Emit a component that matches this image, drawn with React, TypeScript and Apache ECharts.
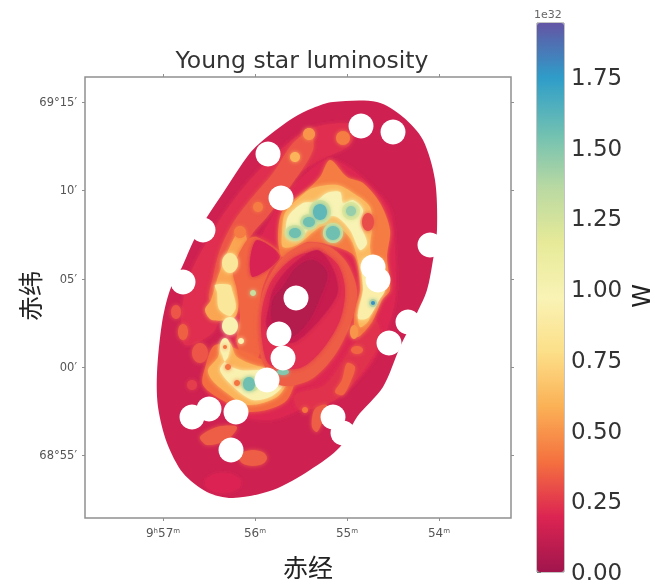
import React, { useEffect, useRef } from "react";
import * as echarts from "echarts";

const spectral = ["#a0154c","#dc2452","#f4703f","#fbb055","#fcdf88","#f9f3b5","#e6ea98","#b9d9a2","#6fc0b2","#2f9dc9","#6355a5"];
const xTickValues = [163, 255, 347, 439];
const xTickLabels = ["9{s|h}57{s|m}", "56{s|m}", "55{s|m}", "54{s|m}"];
const yTickValues = [102, 190, 279, 367, 455];
const yTickLabels = ["69°15′", "10′", "05′", "00′", "68°55′"];
const barTicks = [0, 0.25, 0.5, 0.75, 1, 1.25, 1.5, 1.75];

// Regions of the luminosity map, in image pixels: [value, points]; painted in order.
type Poly = [number, number[][]];
const disc: Poly = [0.15, [[333,102],[377,102],[403,117],[423,140],[435,180],[437,230],[433,260],[427,290],[417,313],[400,347],[383,387],[357,417],[340,447],[310,470],[273,490],[233,498],[207,492],[183,473],[167,443],[158,407],[157,373],[162,323],[170,290],[182,267],[193,242],[207,217],[223,193],[250,153],[267,137],[293,118],[313,108]]];
const outerArmRed: Poly = [0.22, [[355,125],[312,128],[280,150],[250,180],[225,212],[205,245],[190,275],[182,310],[185,345],[215,330],[222,290],[240,250],[262,215],[290,180],[320,160],[350,145]]];
const centralDisc: Poly = [0.2, [[325,160],[290,190],[262,235],[235,290],[225,340],[205,385],[225,410],[270,420],[310,405],[345,390],[370,365],[385,335],[395,300],[395,250],[390,210],[370,185],[345,165]]];
const outerArmOrange: Poly = [0.32, [[310,132],[293,143],[273,173],[250,200],[233,223],[220,250],[213,277],[210,300],[240,300],[237,267],[250,237],[267,217],[290,187],[313,150]]];
const leftArmLight: Poly = [0.55, [[240,230],[227,253],[217,280],[211,300],[205,310],[212,320],[235,317],[239,297],[239,270],[247,240]]];
const leftArmPale: Poly = [0.85, [[215,285],[230,285],[232,290],[236,307],[230,316],[219,309],[217,292]]];
const middleBand: Poly = [0.36, [[257,237],[282,255],[270,270],[262,290],[260,310],[265,333],[260,353],[250,370],[237,343],[240,317],[237,290],[233,270],[247,240]]];
const redPatch: Poly = [0.18, [[257,240],[280,257],[253,277],[250,260]]];
const lowerOrange: Poly = [0.38, [[215,345],[205,368],[203,385],[222,400],[250,412],[285,402],[297,375],[298,360],[265,360],[240,350]]];
const lowerLight: Poly = [0.6, [[222,342],[218,357],[208,370],[212,380],[227,393],[247,405],[277,397],[290,377],[293,365],[263,367],[237,357],[230,343]]];
const lowerPale: Poly = [0.95, [[222,347],[225,362],[240,370],[257,370],[290,367],[282,387],[270,397],[253,400],[237,390],[220,370],[228,357],[228,347]]];
const lowerGreen: Poly = [1.2, [[240,380],[257,377],[257,390],[245,390]]];
const mainOrange: Poly = [0.42, [[330,160],[347,177],[363,183],[380,203],[390,230],[387,257],[390,290],[382,300],[372,322],[357,337],[354,313],[360,290],[355,257],[337,247],[307,242],[283,257],[278,237],[283,210],[307,190],[320,177]]];
const mainLight: Poly = [0.62, [[285,213],[300,197],[313,188],[337,185],[353,193],[370,207],[372,227],[370,247],[375,290],[369,320],[360,327],[358,310],[363,290],[357,257],[350,238],[335,225],[320,227],[297,245],[283,247],[282,233]]];
const mainPale: Poly = [0.98, [[288,217],[303,203],[315,202],[327,193],[340,192],[343,203],[353,200],[363,210],[360,223],[367,243],[360,250],[350,230],[337,217],[327,217],[310,228],[297,240],[287,237]]];
const rightPale: Poly = [0.92, [[363,260],[382,260],[385,290],[380,299],[368,318],[358,318],[363,290]]];
const rightArmLow: Poly = [0.36, [[347,363],[355,367],[350,383],[343,395],[335,392],[342,380]]];
const lowerRightRed: Poly = [0.23, [[295,395],[325,385],[350,350],[375,320],[380,340],[360,375],[335,400],[300,410]]];
const bottomArm: Poly = [0.34, [[317,407],[327,405],[323,420],[317,432],[312,427],[313,413]]];
const lowerLeftPatch: Poly = [0.34, [[200,437],[217,427],[237,427],[227,440],[207,445]]];
const ringA: Poly = [0.34, [[283,257],[307,243],[330,247],[347,263],[357,290],[352,320],[335,355],[310,380],[280,385],[262,360],[258,320],[265,285]]];
const ringB: Poly = [0.22, [[295,257],[320,252],[338,265],[345,290],[340,320],[322,350],[300,368],[270,365],[262,340],[262,310],[272,280]]];
const ringC: Poly = [0.13, [[317,250],[332,267],[338,290],[330,307],[307,333],[290,343],[267,327],[270,303],[273,290],[290,267]]];
const ringD: Poly = [0.06, [[313,260],[327,273],[320,297],[307,323],[290,337],[273,323],[273,300],[283,287],[297,267]]];
const polygons: Poly[] = [disc, outerArmRed, centralDisc, outerArmOrange, leftArmLight, leftArmPale, middleBand, redPatch, lowerRightRed, lowerOrange, lowerLight, lowerPale, lowerGreen, mainOrange, mainLight, mainPale, rightPale, rightArmLow, bottomArm, lowerLeftPatch, ringA, ringB, ringC, ringD];

// Round knots: [x, y, rx, ry, value]
const knots: number[][] = [
  [309,134,6,6,0.5],[343,138,7,7,0.42],[295,157,5,5,0.6],[258,207,5,5,0.42],[240,232,6,6,0.42],[230,263,8,10,0.85],[253,293,3,3,1.3],
  [230,326,8,9,0.95],[225,347,5,9,0.95],[241,341,3,3,0.95],[176,312,5,7,0.32],[183,332,5,8,0.35],[200,353,8,10,0.32],[192,385,5,5,0.26],[253,458,14,8,0.34],[223,483,18,10,0.19],
  [320,212,11,12,1.25],[309,222,9,8,1.25],[295,233,10,8,1.25],[333,233,10,10,1.25],[351,211,9,9,1.2],
  [320,212,7,8,1.6],[309,222,6,5,1.55],[295,233,6,5,1.55],[333,233,7,7,1.55],[351,211,5,5,1.45],
  [368,222,6,9,0.3],[249,384,6,7,1.55],[283,372,6,3,1.5],[237,383,3,3,0.4],[228,367,3,3,0.4],[225,347,2,2,0.4],
  [373,303,4,4,1.3],[373,303,2,2,1.78],[357,350,6,4,0.36],[354,332,4,7,0.5],[305,410,3,3,0.4],
];

// Masked-out field stars: [x, y]
const maskedStars: number[][] = [
  [361,126],[393,132],[268,154],[281,198],[203,230],[183,282],[430,245],[373,267],[378,280],[296,298],
  [408,322],[389,343],[279,334],[283,358],[267,380],[192,417],[209,409],[236,412],[231,450],[333,417],[343,433],
];

const polyRows = polygons.map((p, i) => [i, p[0]]);
const knotRows = knots.map((k, i) => [polygons.length + i, k[4]]);

export default function App() {
  const ref = useRef<HTMLDivElement>(null);
  useEffect(() => {
    const chart = echarts.init(ref.current!, undefined, { renderer: "svg" });
    const grey = "#909090";
    const labelGrey = "#555";
    chart.setOption({
      animation: false,
      backgroundColor: "#fff",
      textStyle: { fontFamily: "DejaVu Sans" },
      title: { text: "Young star luminosity", left: 297, top: 43, textAlign: "center", textStyle: { fontSize: 23.5, fontWeight: "normal", color: "#333", fontFamily: "DejaVu Sans" } },
      grid: [
        { left: 85, top: 77, width: 426, height: 441, show: true, borderColor: grey, borderWidth: 1.5, outerBoundsMode: "none" },
        { left: 537, top: 23, width: 27, height: 549, show: true, borderColor: "#888", borderWidth: 1, outerBoundsMode: "none" },
      ],
      xAxis: [
        { type: "value", gridIndex: 0, min: 85, max: 511, position: "bottom", splitLine: { show: false }, axisLine: { show: false },
          axisTick: { length: 3, customValues: xTickValues, lineStyle: { color: grey } },
          axisLabel: { margin: 9, customValues: xTickValues, fontSize: 12, color: labelGrey, formatter: (v: number) => xTickLabels[xTickValues.indexOf(v)] ?? "", rich: { s: { fontSize: 7, verticalAlign: "top", color: labelGrey, padding: [0,0,4,0] } } } },
        { type: "value", gridIndex: 0, min: 85, max: 511, position: "top", splitLine: { show: false }, axisLine: { show: false }, axisLabel: { show: false },
          axisTick: { length: 3, customValues: xTickValues, lineStyle: { color: grey } } },
        { type: "value", gridIndex: 1, min: 0, max: 1, show: false },
      ],
      yAxis: [
        { type: "value", gridIndex: 0, min: 77, max: 518, inverse: true, position: "left", splitLine: { show: false }, axisLine: { show: false },
          axisTick: { length: 3, customValues: yTickValues, lineStyle: { color: grey } },
          axisLabel: { margin: 8, customValues: yTickValues, fontSize: 11.5, color: labelGrey, formatter: (v: number) => yTickLabels[yTickValues.indexOf(v)] ?? "" } },
        { type: "value", gridIndex: 0, min: 77, max: 518, inverse: true, position: "right", splitLine: { show: false }, axisLine: { show: false }, axisLabel: { show: false },
          axisTick: { length: 3, customValues: yTickValues, lineStyle: { color: grey } } },
        { type: "value", gridIndex: 1, min: 0, max: 1.94, position: "right", splitLine: { show: false }, axisLine: { show: false },
          axisTick: { length: 4, customValues: barTicks, lineStyle: { color: "#777" } },
          axisLabel: { margin: 7, customValues: barTicks, fontSize: 23, color: "#333", formatter: (v: number) => v.toFixed(2) } },
      ],
      visualMap: { type: "continuous", seriesIndex: 0, dimension: 1, min: 0, max: 1.94, left: 537, top: 23, itemWidth: 27, itemHeight: 549, padding: 0, calculable: false, text: ["", ""], showLabel: false, inRange: { color: spectral } },
      graphic: [
        { type: "text", left: 534, top: 9, style: { text: "1e32", fontSize: 11, fill: "#666", fontFamily: "DejaVu Sans" } },
        { type: "text", x: 308, y: 566, style: { text: "赤经", fontSize: 25, fill: "#222", fontFamily: "Noto Sans CJK SC", align: "center", verticalAlign: "middle" } },
        { type: "text", x: 29, y: 296, rotation: Math.PI / 2, style: { text: "赤纬", fontSize: 25, fill: "#222", fontFamily: "Noto Sans CJK SC", align: "center", verticalAlign: "middle" } },
        { type: "text", x: 642, y: 296, rotation: Math.PI / 2, style: { text: "W", fontSize: 24, fill: "#222", fontFamily: "DejaVu Sans", align: "center", verticalAlign: "middle" } },
      ],
      series: [
        { type: "custom", coordinateSystem: "cartesian2d", xAxisIndex: 0, yAxisIndex: 0, clip: true, z: 2,
          data: [...polyRows, ...knotRows], encode: { x: -1, y: -1 }, dimensions: ["idx", "value"],
          renderItem: (_: any, api: any) => {
            const i = api.value(0);
            const fill = api.visual("color");
            const soft = { fill, stroke: null, shadowBlur: 4, shadowColor: fill };
            if (i === 0) {
              return { type: "polygon", shape: { points: polygons[0][1].map((p) => api.coord(p)), smooth: 0.3 }, style: { fill, stroke: null } };
            }
            if (i < polygons.length) {
              return { type: "polygon", shape: { points: polygons[i][1].map((p) => api.coord(p)), smooth: 0.3 }, style: soft };
            }
            const k = knots[i - polygons.length];
            const c = api.coord([k[0], k[1]]);
            const s = api.size([k[2], k[3]]);
            return { type: "ellipse", shape: { cx: c[0], cy: c[1], rx: s[0], ry: s[1] }, style: soft };
          } },
        { type: "scatter", xAxisIndex: 0, yAxisIndex: 0, data: maskedStars, symbol: "circle", symbolSize: 25, silent: true, z: 3, itemStyle: { color: "#fff", opacity: 1 } },
      ],
    });
    return () => chart.dispose();
  }, []);
  return <div ref={ref} style={{ position: "absolute", left: 0, top: 0, width: 664, height: 584, filter: "blur(0.6px)" }} />;
}
